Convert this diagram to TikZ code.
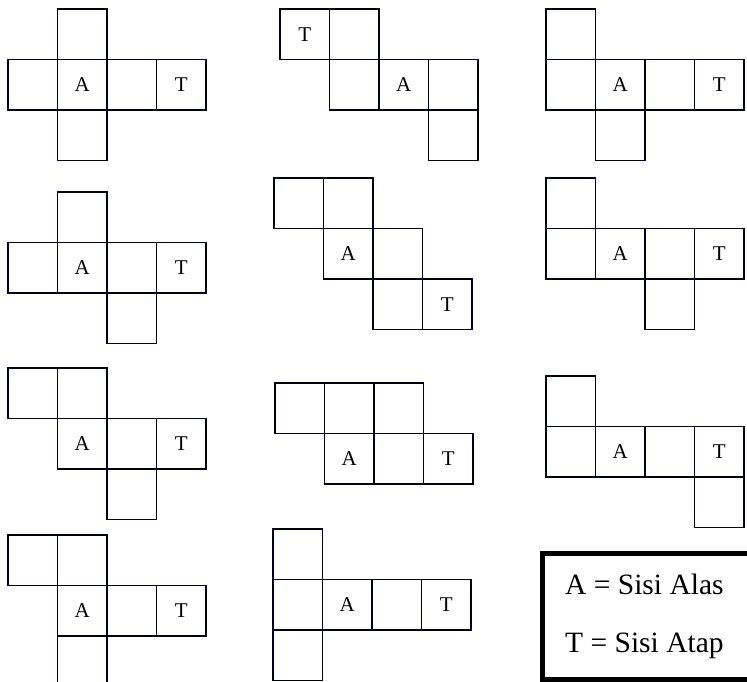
\documentclass[tikz,border=0pt]{standalone}
\usepackage{fontspec}
\setmainfont{Liberation Serif}
\tikzset{
  cell/.style={draw=black!90!blue, line width=1.5pt, minimum width=49.5pt, minimum height=50.5pt, inner sep=0pt, outer sep=0pt, font=\fontsize{21}{21}\selectfont},
  legendbox/.style={draw=black, line width=5pt},
  legendtext/.style={anchor=west, inner sep=0pt, font=\fontsize{29.5}{29.5}\selectfont}
}
\newcommand{\netcell}[6]{\node[cell] (#1) at ({#2+(#4+0.5)*49.5},{#3+(#5+0.5)*50.5}) {#6};}
\begin{document}
\begin{tikzpicture}[x=1pt,y=-1pt]
\useasboundingbox (0,0) rectangle (747,682);
% Net 1
\netcell{aa}{8}{9}{1}{0}{}
\netcell{ab}{8}{9}{0}{1}{}
\netcell{ac}{8}{9}{1}{1}{A}
\netcell{ad}{8}{9}{2}{1}{}
\netcell{ae}{8}{9}{3}{1}{T}
\netcell{af}{8}{9}{1}{2}{}
% Net 2
\netcell{ba}{280}{9}{0}{0}{T}
\netcell{bb}{280}{9}{1}{0}{}
\netcell{bc}{280}{9}{1}{1}{}
\netcell{bd}{280}{9}{2}{1}{A}
\netcell{be}{280}{9}{3}{1}{}
\netcell{bf}{280}{9}{3}{2}{}
% Net 3
\netcell{ca}{546}{9}{0}{0}{}
\netcell{cb}{546}{9}{0}{1}{}
\netcell{cc}{546}{9}{1}{1}{A}
\netcell{cd}{546}{9}{2}{1}{}
\netcell{ce}{546}{9}{3}{1}{T}
\netcell{cf}{546}{9}{1}{2}{}
% Net 4
\netcell{da}{8}{192}{1}{0}{}
\netcell{db}{8}{192}{0}{1}{}
\netcell{dc}{8}{192}{1}{1}{A}
\netcell{dd}{8}{192}{2}{1}{}
\netcell{de}{8}{192}{3}{1}{T}
\netcell{df}{8}{192}{2}{2}{}
% Net 5
\netcell{ea}{274}{178}{0}{0}{}
\netcell{eb}{274}{178}{1}{0}{}
\netcell{ec}{274}{178}{1}{1}{A}
\netcell{ed}{274}{178}{2}{1}{}
\netcell{ee}{274}{178}{2}{2}{}
\netcell{ef}{274}{178}{3}{2}{T}
% Net 6
\netcell{fa}{546}{178}{0}{0}{}
\netcell{fb}{546}{178}{0}{1}{}
\netcell{fc}{546}{178}{1}{1}{A}
\netcell{fd}{546}{178}{2}{1}{}
\netcell{fe}{546}{178}{3}{1}{T}
\netcell{ff}{546}{178}{2}{2}{}
% Net 7
\netcell{ga}{8}{368}{0}{0}{}
\netcell{gb}{8}{368}{1}{0}{}
\netcell{gc}{8}{368}{1}{1}{A}
\netcell{gd}{8}{368}{2}{1}{}
\netcell{ge}{8}{368}{3}{1}{T}
\netcell{gf}{8}{368}{2}{2}{}
% Net 8
\netcell{ha}{275}{383}{0}{0}{}
\netcell{hb}{275}{383}{1}{0}{}
\netcell{hc}{275}{383}{2}{0}{}
\netcell{hd}{275}{383}{1}{1}{A}
\netcell{he}{275}{383}{2}{1}{}
\netcell{hf}{275}{383}{3}{1}{T}
% Net 9
\netcell{ia}{546}{376}{0}{0}{}
\netcell{ib}{546}{376}{0}{1}{}
\netcell{ic}{546}{376}{1}{1}{A}
\netcell{id}{546}{376}{2}{1}{}
\netcell{ie}{546}{376}{3}{1}{T}
\netcell{if}{546}{376}{3}{2}{}
% Net 10
\netcell{ja}{8}{535}{0}{0}{}
\netcell{jb}{8}{535}{1}{0}{}
\netcell{jc}{8}{535}{1}{1}{A}
\netcell{jd}{8}{535}{2}{1}{}
\netcell{je}{8}{535}{3}{1}{T}
\netcell{jf}{8}{535}{1}{2}{}
% Net 11
\netcell{ka}{273}{529}{0}{0}{}
\netcell{kb}{273}{529}{0}{1}{}
\netcell{kc}{273}{529}{1}{1}{A}
\netcell{kd}{273}{529}{2}{1}{}
\netcell{ke}{273}{529}{3}{1}{T}
\netcell{kf}{273}{529}{0}{2}{}
% Legend
\draw[legendbox] (542,553) rectangle (770,679);
\node[legendtext] (la) at (565,584) {A = Sisi Alas};
\node[legendtext] (lt) at (565,646) {T = Sisi Atap};
\end{tikzpicture}
\end{document}
